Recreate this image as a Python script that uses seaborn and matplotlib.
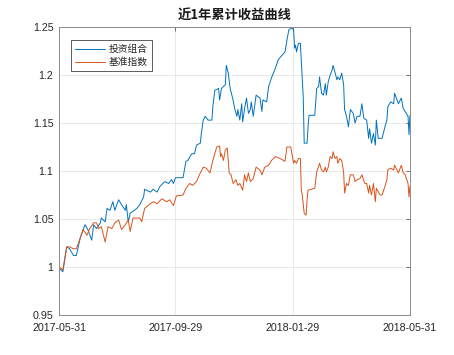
import numpy as np
import pandas as pd
import matplotlib
matplotlib.use('Agg')
import matplotlib.pyplot as plt
import seaborn as sns

# 从 2017-05-31 起的天数, 以及对应净值, 每行 10 个
port_days = [0, 4, 8, 11, 15, 18, 22, 27, 30, 34,
             36, 39, 43, 44, 48, 50, 53, 56, 58, 62,
             65, 69, 70, 72, 74, 77, 81, 84, 88, 89,
             95, 98, 102, 105, 110, 114, 117, 119, 121, 129,
             132, 134, 138, 141, 143, 147, 148, 150, 152, 155,
             159, 160, 162, 166, 167, 169, 173, 174, 176, 178,
             181, 183, 185, 186, 188, 190, 191, 193, 195, 197,
             199, 200, 202, 205, 209, 211, 212, 216, 218, 221,
             225, 228, 235, 237, 239, 242, 244, 245, 246, 247,
             249, 251, 254, 255, 258, 259, 260, 266, 268, 270,
             271, 273, 275, 277, 278, 280, 282, 284, 285, 287,
             289, 290, 292, 294, 296, 297, 299, 301, 303, 306,
             308, 310, 313, 315, 317, 320, 322, 323, 325, 327,
             329, 330, 332, 336, 339, 341, 342, 345, 348, 349,
             353, 356, 358, 360, 363, 364, 365]
port_vals = [0.999, 0.995, 1.021, 1.019, 1.012, 1.012, 1.030, 1.044, 1.039, 1.028,
             1.044, 1.040, 1.046, 1.051, 1.047, 1.061, 1.059, 1.068, 1.059, 1.070,
             1.065, 1.059, 1.065, 1.047, 1.056, 1.058, 1.061, 1.065, 1.073, 1.081,
             1.078, 1.081, 1.078, 1.084, 1.089, 1.087, 1.091, 1.087, 1.093, 1.093,
             1.110, 1.111, 1.118, 1.118, 1.127, 1.129, 1.139, 1.153, 1.157, 1.153,
             1.153, 1.167, 1.184, 1.186, 1.174, 1.186, 1.190, 1.210, 1.202, 1.186,
             1.174, 1.164, 1.157, 1.164, 1.153, 1.170, 1.151, 1.165, 1.176, 1.160,
             1.164, 1.172, 1.157, 1.179, 1.176, 1.162, 1.174, 1.172, 1.188, 1.197,
             1.207, 1.216, 1.224, 1.236, 1.247, 1.249, 1.247, 1.228, 1.231, 1.224,
             1.233, 1.233, 1.177, 1.129, 1.129, 1.146, 1.158, 1.158, 1.186, 1.188,
             1.198, 1.181, 1.179, 1.191, 1.179, 1.193, 1.200, 1.205, 1.210, 1.203,
             1.195, 1.198, 1.195, 1.202, 1.190, 1.164, 1.157, 1.146, 1.164, 1.160,
             1.150, 1.157, 1.157, 1.170, 1.155, 1.153, 1.134, 1.144, 1.129, 1.139,
             1.127, 1.153, 1.134, 1.134, 1.146, 1.153, 1.167, 1.172, 1.170, 1.181,
             1.170, 1.176, 1.165, 1.162, 1.157, 1.138, 1.158]

bench_days = [0, 4, 8, 11, 15, 18, 22, 25, 29, 32,
              36, 39, 41, 44, 48, 51, 55, 58, 62, 65,
              69, 72, 74, 77, 81, 84, 86, 89, 95, 98,
              102, 107, 112, 115, 119, 122, 129, 132, 136, 139,
              143, 146, 150, 153, 157, 160, 164, 167, 168, 169,
              171, 173, 175, 177, 179, 181, 184, 186, 188, 191,
              193, 195, 197, 199, 202, 205, 209, 211, 214, 218,
              221, 225, 230, 235, 237, 241, 244, 245, 247, 249,
              251, 252, 253, 255, 257, 258, 259, 266, 268, 271,
              273, 275, 277, 278, 280, 282, 284, 285, 287, 289,
              290, 292, 294, 296, 297, 299, 301, 303, 306, 308,
              310, 313, 315, 318, 320, 322, 323, 325, 327, 329,
              330, 334, 336, 339, 341, 342, 345, 348, 349, 353,
              356, 358, 360, 363, 364, 365]
bench_vals = [1.000, 0.997, 1.021, 1.021, 1.019, 1.019, 1.030, 1.039, 1.033, 1.040,
              1.046, 1.046, 1.040, 1.042, 1.026, 1.042, 1.040, 1.046, 1.049, 1.039,
              1.044, 1.049, 1.037, 1.051, 1.051, 1.051, 1.047, 1.061, 1.066, 1.068,
              1.066, 1.071, 1.068, 1.070, 1.064, 1.074, 1.075, 1.082, 1.087, 1.085,
              1.089, 1.096, 1.104, 1.103, 1.098, 1.111, 1.125, 1.126, 1.115, 1.118,
              1.111, 1.122, 1.124, 1.098, 1.096, 1.087, 1.091, 1.085, 1.087, 1.080,
              1.096, 1.089, 1.098, 1.089, 1.092, 1.104, 1.101, 1.096, 1.104, 1.106,
              1.111, 1.115, 1.113, 1.110, 1.125, 1.125, 1.108, 1.111, 1.108, 1.113,
              1.113, 1.080, 1.075, 1.056, 1.054, 1.070, 1.080, 1.082, 1.099, 1.108,
              1.101, 1.099, 1.104, 1.099, 1.104, 1.115, 1.113, 1.120, 1.113, 1.115,
              1.108, 1.113, 1.111, 1.099, 1.077, 1.087, 1.085, 1.096, 1.096, 1.089,
              1.091, 1.092, 1.096, 1.087, 1.087, 1.077, 1.085, 1.075, 1.087, 1.068,
              1.082, 1.075, 1.075, 1.084, 1.091, 1.101, 1.103, 1.101, 1.106, 1.098,
              1.106, 1.098, 1.096, 1.087, 1.073, 1.084]

start = pd.Timestamp('2017-05-31')
tick_dates = ['2017-05-31', '2017-09-29', '2018-01-29', '2018-05-31']
y_ticks = [0.95, 1.0, 1.05, 1.1, 1.15, 1.2, 1.25]
y_labels = ['0.95', '1', '1.05', '1.1', '1.15', '1.2', '1.25']

df1 = pd.DataFrame({'date': start + pd.to_timedelta(port_days, unit='D'), 'val': port_vals})
df2 = pd.DataFrame({'date': start + pd.to_timedelta(bench_days, unit='D'), 'val': bench_vals})

sns.set_style('white')
plt.rcParams['font.family'] = ['Liberation Sans', 'Noto Sans CJK SC', 'DejaVu Sans']

fig = plt.figure(figsize=(4.54, 3.55), dpi=100)
ax = fig.add_axes([0.13, 0.1127, 0.773, 0.8113])

sns.lineplot(data=df1, x='date', y='val', ax=ax, color='#0072BD', linewidth=0.7,
             label='投资组合')
sns.lineplot(data=df2, x='date', y='val', ax=ax, color='#D95319', linewidth=0.7,
             label='基准指数')

ax.set_xlim(pd.Timestamp(tick_dates[0]), pd.Timestamp(tick_dates[-1]))
ax.set_ylim(0.95, 1.25)
ax.set_xticks([pd.Timestamp(d) for d in tick_dates])
ax.set_xticklabels(tick_dates)
ax.set_yticks(y_ticks)
ax.set_yticklabels(y_labels)
ax.set_xlabel('')
ax.set_ylabel('')

ax.grid(True, color='#e6e6e6', linewidth=0.6)
ax.set_axisbelow(True)
for s in ax.spines.values():
    s.set_color('#8c8c8c')
    s.set_linewidth(0.7)
ax.tick_params(direction='in', length=3, width=0.6, color='#555555', top=True, right=True,
               labelsize=7.7, labelcolor='#262626')
ax.tick_params(axis='x', pad=5.5)
ax.tick_params(axis='y', pad=4)

ax.set_title('近1年累计收益曲线', fontsize=9.5, fontweight='bold', color='#1a1a1a',
             family=['Noto Sans CJK SC', 'DejaVu Sans'], pad=5)

leg = ax.legend(loc='upper left', bbox_to_anchor=(0.02, 0.97), frameon=True,
                fancybox=False, handlelength=3.1, borderpad=0.4, labelspacing=0.3,
                handletextpad=0.4, prop={'family': ['Noto Sans CJK SC', 'DejaVu Sans'], 'size': 7})
leg.get_frame().set_edgecolor('#333333')
leg.get_frame().set_linewidth(0.7)

fig.savefig('out.png', dpi=100)
